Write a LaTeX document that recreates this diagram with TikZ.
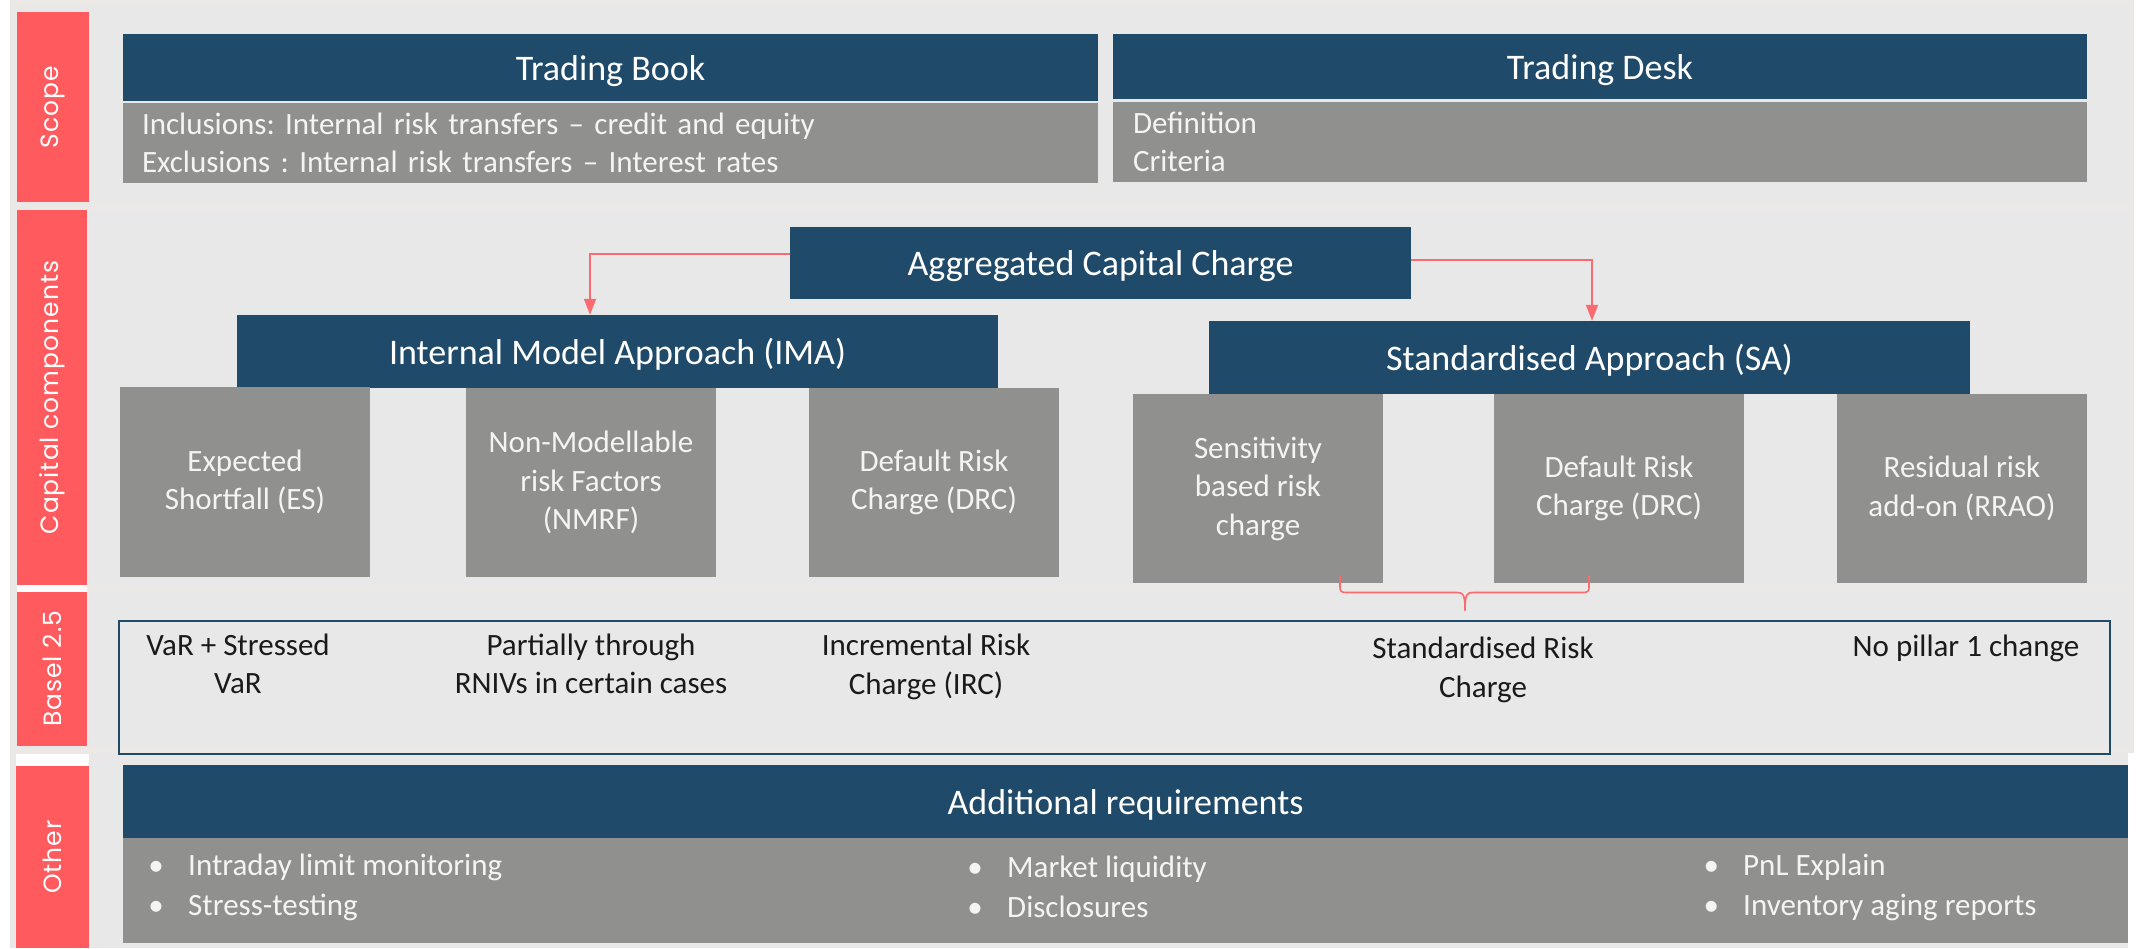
\documentclass[tikz,border=0pt]{standalone}
\usepackage{fontspec}
\usetikzlibrary{arrows.meta}
\setmainfont{Carlito}
\newfontfamily\sidefam[LetterSpace=4]{Poppins}
\definecolor{navy}{HTML}{1F4A69}
\definecolor{slab}{HTML}{90918E}
\definecolor{tabred}{HTML}{FF5B5F}
\definecolor{panel}{HTML}{E8E8E8}
\definecolor{seam}{HTML}{ECE8E5}
\definecolor{linkred}{HTML}{F96B70}
\definecolor{pale}{HTML}{F4F4F4}
\definecolor{ink}{HTML}{1A1A1A}
\newcommand\bl{\makebox[64pt][c]{•}}
\frenchspacing

\begin{document}
\begin{tikzpicture}[x=1pt,y=-1pt,
  head/.style={fill=navy,text=white,inner sep=0pt,align=center,text height=32pt,text depth=7pt,font=\fontsize{36}{44}\selectfont},
  slabbox/.style={fill=slab,text=pale,inner sep=0pt,align=center,font=\fontsize{31}{38.5}\selectfont},
  tab/.style={fill=tabred,inner sep=0pt},
  sidelabel/.style={rotate=90,text=white,inner sep=0pt,font=\sidefam\fontsize{25}{30}\selectfont},
  note/.style={text=ink,inner sep=0pt,align=center,font=\fontsize{31}{38.5}\selectfont},
  bullets/.style={text=pale,inner sep=0pt,align=left,anchor=west,font=\fontsize{31}{40}\selectfont},
  link/.style={draw=linkred,line width=1.8pt,-{Triangle[length=16pt,width=12pt]}},
  brace/.style={draw=linkred,line width=1.6pt,line cap=round,line join=round}
]
\useasboundingbox (0,0) rectangle (2136,948);

% backdrop and row panels
\fill[white] (0,0) rectangle (2136,948);
\fill[seam] (10,0) rectangle (2134,753);
\fill[seam] (10,753) rectangle (17,948);
\fill[panel] (17,5) rectangle (2128,202);
\fill[panel] (17,210) rectangle (2128,585);
\fill[panel] (17,592) rectangle (2128,746);
\fill[panel] (17,753) rectangle (2128,948);

% side tabs
\node[tab,minimum width=72pt,minimum height=190pt] (tabscope) at (53,107) {};
\node[tab,minimum width=70pt,minimum height=375pt] (tabcap) at (52,397.5) {};
\node[tab,minimum width=70pt,minimum height=154pt] (tabbasel) at (52,669) {};
\node[tab,minimum width=73pt,minimum height=182pt] (tabother) at (52.5,857) {};
\fill[white] (17,585) rectangle (87,592);
\fill[white] (16,754) rectangle (89,766);
\node[sidelabel] at (tabscope.center) {Scope};
\node[sidelabel] at (tabcap.center) {Capital components};
\node[sidelabel] at (tabbasel.center) {Basel 2.5};
\node[sidelabel] at (tabother.center) {Other};

% scope
\node[head,minimum width=975pt,minimum height=67pt] (tbhead) at (610.5,67.5) {Trading Book};
\node[slabbox,minimum width=975pt,minimum height=80pt,text width=937pt,align=left] (tbbody) at (610.5,143) {Inclusions: Internal risk transfers -- credit and equity\\Exclusions : Internal risk transfers -- Interest rates};
\node[head,minimum width=974pt,minimum height=65pt] (tdhead) at (1600,66.5) {Trading Desk};
\node[slabbox,minimum width=974pt,minimum height=80pt,text width=934pt,align=left] (tdbody) at (1600,142) {Definition\\Criteria};

% capital components
\node[head,minimum width=621pt,minimum height=72pt] (agg) at (1100.5,263) {Aggregated Capital Charge};
\node[head,minimum width=761pt,minimum height=73pt] (ima) at (617.5,351.5) {Internal Model Approach (IMA)};
\node[head,minimum width=761pt,minimum height=73pt] (sa) at (1589.5,357.5) {Standardised Approach (SA)};

\node[slabbox,minimum width=250pt,minimum height=190pt] (es) at (245,482) {Expected\\Shortfall (ES)};
\node[slabbox,minimum width=250pt,minimum height=189pt] (nmrf) at (591,482.5) {Non-Modellable\\risk Factors\\(NMRF)};
\node[slabbox,minimum width=250pt,minimum height=189pt] (drcima) at (934,482.5) {Default Risk\\Charge (DRC)};
\node[slabbox,minimum width=250pt,minimum height=189pt] (sbr) at (1258,488.5) {Sensitivity\\based risk\\charge};
\node[slabbox,minimum width=250pt,minimum height=189pt] (drcsa) at (1619,488.5) {Default Risk\\Charge (DRC)};
\node[slabbox,minimum width=250pt,minimum height=189pt] (rrao) at (1962,488.5) {Residual risk\\add-on (RRAO)};

\coordinate (lbend) at (590,254);
\coordinate (rbend) at (1592,260);
\draw[link] ([yshift=9pt]agg.west) -- (lbend) -- (lbend |- ima.north);
\draw[link] ([yshift=3pt]agg.east) -- (rbend) -- (rbend |- sa.north);

% brace joining the two standardised charges
\coordinate (bl) at (1340,576);
\coordinate (br) at (1589,576);
\coordinate (btip) at (1465,610);
\draw[brace] (bl) -- (1340,587) .. controls (1340,591) and (1341,592.5) .. (1346,592.5)
  -- (1457,592.5) .. controls (1463,592.5) and (1465,594) .. (btip);
\draw[brace] (br) -- (1589,587) .. controls (1589,591) and (1588,592.5) .. (1583,592.5)
  -- (1473,592.5) .. controls (1467,592.5) and (1465,594) .. (btip);

% Basel 2.5
\node[draw=navy,line width=2.5pt,minimum width=1991pt,minimum height=133pt,inner sep=0pt] (basel) at (1114.5,687.5) {};
\node[note] (var) at (238,664) {VaR + Stressed\\VaR};
\node[note] (rniv) at (591,664) {Partially through\\RNIVs in certain cases};
\node[note] (irc) at (926,667) {Incremental Risk\\Charge (IRC)};
\node[note] (src) at (1483,670) {Standardised Risk\\Charge};
\node[note] (nop) at (1966,648) {No pillar 1 change};

% other
\node[head,minimum width=2005pt,minimum height=73pt] (addhead) at (1125.5,801.5) {Additional requirements};
\node[fill=slab,minimum width=2005pt,minimum height=105pt,inner sep=0pt] (addbody) at (1125.5,890.5) {};
\node[bullets] (col1) at (124,887) {\bl Intraday limit monitoring\\\bl Stress-testing};
\node[bullets] (col2) at (943,887) {\bl Market liquidity\\\bl Disclosures};
\node[bullets] (col3) at (1679,887) {\bl PnL Explain\\\bl Inventory aging reports};
\end{tikzpicture}
\end{document}
